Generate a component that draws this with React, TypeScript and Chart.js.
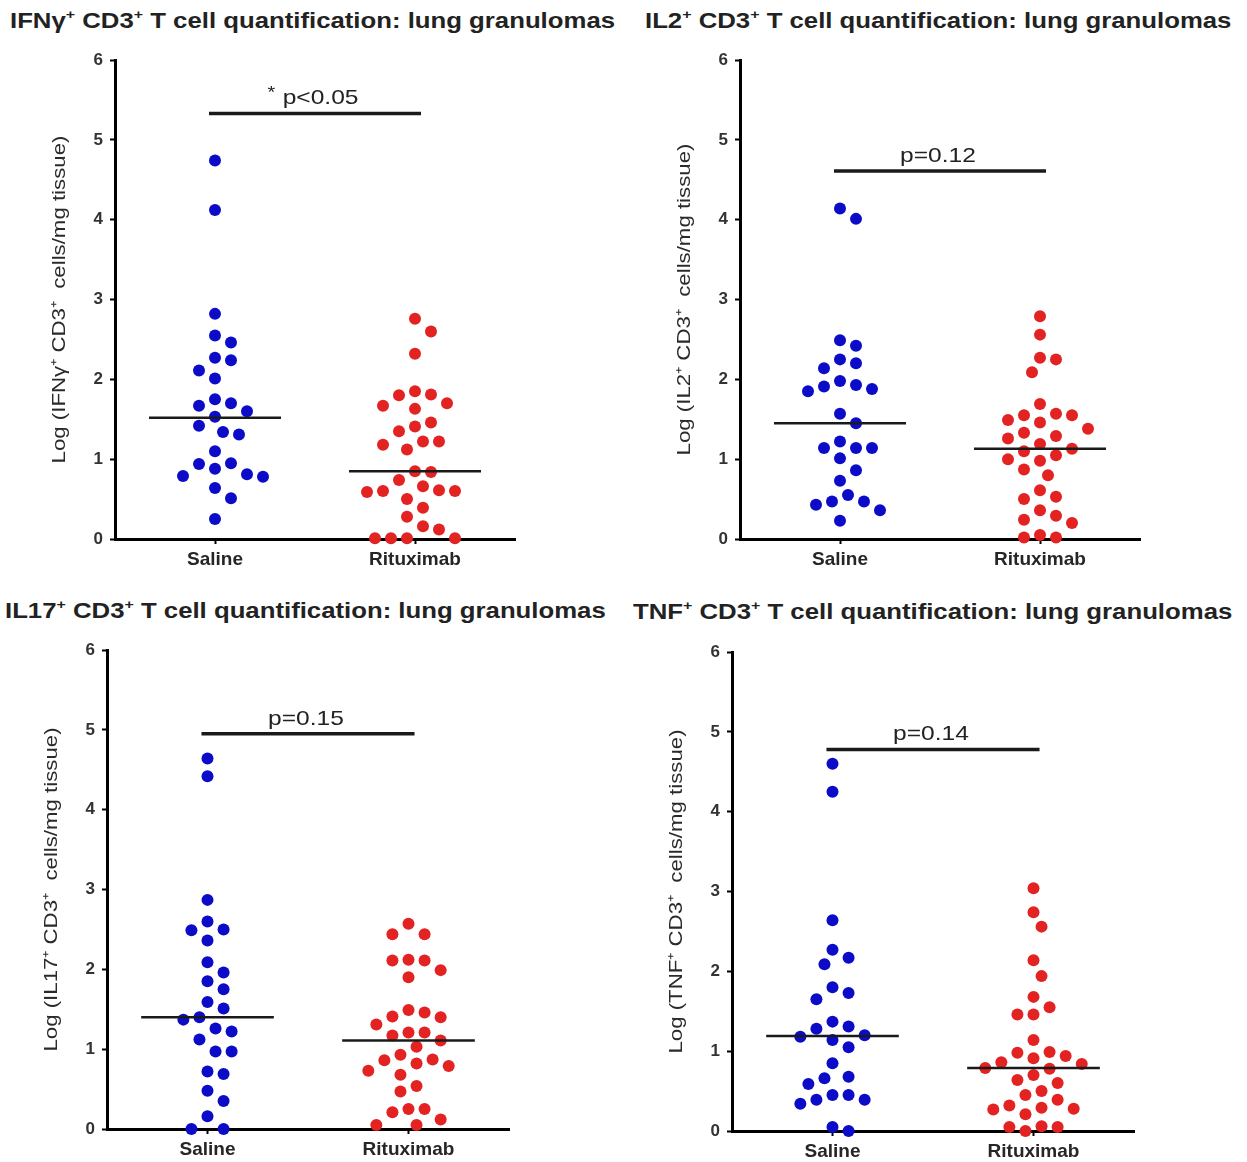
import React, { useEffect, useRef } from 'react';
import { Chart, registerables } from 'chart.js';

Chart.register(...registerables);

// ---------- data ----------
const categories = ['Saline', 'Rituximab'];

const ifngSaline = [4.74, 4.12, 2.82, 2.55, 2.46, 2.27, 2.24, 2.11, 2.01, 1.75, 1.70, 1.67, 1.60, 1.53, 1.42, 1.34, 1.31, 1.10, 0.94, 0.95, 0.88, 0.81, 0.78, 0.79, 0.64, 0.51, 0.25];
const ifngRituximab = [2.76, 2.60, 2.32, 1.85, 1.81, 1.80, 1.70, 1.67, 1.63, 1.46, 1.41, 1.35, 1.22, 1.22, 1.18, 1.12, 0.85, 0.84, 0.74, 0.66, 0.61, 0.60, 0.60, 0.59, 0.50, 0.39, 0.28, 0.16, 0.12, 0.01, 0.01, 0.01, 0.01];
const ifngMedians = [1.52, 0.85];
const ifngBar = 5.33;
const ifngP = '* p<0.05';

const il2Saline = [4.14, 4.01, 2.49, 2.42, 2.25, 2.20, 2.14, 1.98, 1.93, 1.91, 1.88, 1.85, 1.57, 1.45, 1.22, 1.14, 1.14, 1.14, 1.01, 0.86, 0.73, 0.55, 0.47, 0.47, 0.43, 0.36, 0.23];
const il2Rituximab = [2.79, 2.56, 2.27, 2.25, 2.09, 1.69, 1.57, 1.55, 1.55, 1.49, 1.46, 1.38, 1.33, 1.29, 1.26, 1.19, 1.13, 1.10, 1.05, 1.00, 0.98, 0.87, 0.80, 0.61, 0.53, 0.50, 0.36, 0.29, 0.24, 0.20, 0.05, 0.02, 0.02];
const il2Medians = [1.45, 1.13];
const il2Bar = 4.61;
const il2P = 'p=0.12';

const il17Saline = [4.64, 4.42, 2.87, 2.60, 2.50, 2.49, 2.36, 2.09, 1.96, 1.85, 1.75, 1.59, 1.51, 1.40, 1.37, 1.26, 1.22, 1.12, 0.97, 0.97, 0.72, 0.69, 0.48, 0.35, 0.16, 0.00, 0.00];
const il17Rituximab = [2.57, 2.44, 2.44, 2.12, 2.11, 2.11, 1.99, 1.90, 1.49, 1.46, 1.41, 1.40, 1.31, 1.21, 1.21, 1.17, 1.11, 1.03, 0.93, 0.87, 0.86, 0.82, 0.79, 0.73, 0.68, 0.54, 0.47, 0.25, 0.25, 0.21, 0.12, 0.05, 0.05];
const il17Medians = [1.40, 1.11];
const il17Bar = 4.95;
const il17P = 'p=0.15';

const tnfSaline = [4.60, 4.25, 2.64, 2.27, 2.17, 2.09, 1.80, 1.73, 1.65, 1.37, 1.31, 1.28, 1.20, 1.18, 1.14, 1.05, 0.85, 0.68, 0.66, 0.59, 0.45, 0.45, 0.39, 0.39, 0.34, 0.05, 0.00];
const tnfRituximab = [3.04, 2.74, 2.56, 2.14, 1.94, 1.68, 1.55, 1.46, 1.46, 1.14, 0.99, 0.98, 0.94, 0.91, 0.86, 0.84, 0.79, 0.78, 0.70, 0.64, 0.60, 0.50, 0.45, 0.39, 0.32, 0.29, 0.28, 0.27, 0.21, 0.06, 0.05, 0.05, 0.00];
const tnfMedians = [1.19, 0.79];
const tnfBar = 4.78;
const tnfP = 'p=0.14';

const yTicks = [0, 1, 2, 3, 4, 5, 6];

// ---------- style ----------
const BLUE = '#0c0cc8';
const RED = '#e32222';
const FONT = '"Liberation Sans", Arial, Helvetica, sans-serif';
const X_PX = 200; // px per category unit
const Y_PX = 479 / 6; // px per y unit
const DOT_R = 6;
const HALF_MEDIAN = 0.33;
const BAR_FROM = 0.97;
const BAR_TO = 2.03;
const STRETCH = 1.17;

function swarmOffsets(values: number[]): number[] {
  const D = 16;
  const step = 8;
  const order = values.map((_, i) => i).sort((a, b) => values[b] - values[a]);
  const placed: { x: number; y: number }[] = [];
  const out = new Array(values.length).fill(0);
  for (const i of order) {
    const y = values[i] * Y_PX;
    const near = placed.filter((p) => Math.abs(p.y - y) < D);
    const bias = near.reduce((s, p) => s + p.x, 0);
    let chosen = 0;
    for (let k = 0; k < 30; k++) {
      const cands = k === 0 ? [0] : bias > 0 ? [-k * step, k * step] : [k * step, -k * step];
      let found: number | null = null;
      for (const c of cands) {
        if (near.every((p) => (p.x - c) ** 2 + (p.y - y) ** 2 >= D * D)) {
          found = c;
          break;
        }
      }
      if (found !== null) {
        chosen = found;
        break;
      }
    }
    placed.push({ x: chosen, y });
    out[i] = chosen / X_PX;
  }
  return out;
}

type PanelProps = {
  saline: number[];
  rituximab: number[];
  medians: number[];
  bar: number;
  pText: string;
  yTitle: string;
  axisX: number;
  top: number;
  bottom: number;
  right: number;
};

const textPlugin = {
  id: 'extraText',
  afterDatasetsDraw(chart: any, _args: any, opts: any) {
    const { ctx, scales, chartArea } = chart;
    // p-value label above the bar
    const x = scales.x.getPixelForValue(1.49);
    const y = scales.y.getPixelForValue(opts.bar) - 9;
    ctx.save();
    ctx.fillStyle = '#222';
    ctx.textBaseline = 'alphabetic';
    ctx.textAlign = 'left';
    let text: string = opts.text;
    let star = false;
    if (text.startsWith('* ')) {
      star = true;
      text = text.slice(2);
    }
    ctx.translate(x, y);
    ctx.scale(STRETCH, 1);
    ctx.font = `21px ${FONT}`;
    const w = ctx.measureText(text).width;
    const starW = star ? 13 : 0;
    const start = -(w + starW) / 2;
    if (star) {
      ctx.font = `17px ${FONT}`;
      ctx.fillText('*', start, -6);
      ctx.font = `21px ${FONT}`;
    }
    ctx.fillText(text, start + starW, 0);
    ctx.restore();

    // rotated y-axis title
    ctx.save();
    ctx.fillStyle = '#2a2a2a';
    ctx.translate(60, (chartArea.top + chartArea.bottom) / 2);
    ctx.rotate(-Math.PI / 2);
    ctx.scale(STRETCH, 1);
    ctx.font = `19px ${FONT}`;
    ctx.textAlign = 'center';
    ctx.textBaseline = 'middle';
    ctx.fillText(opts.yTitle, 0, 0);
    ctx.restore();
  },
};

function Panel(props: PanelProps) {
  const ref = useRef<HTMLCanvasElement | null>(null);
  const width = 620;
  const height = props.bottom - props.top + 20 + 49;
  const left = props.axisX - 115;
  useEffect(() => {
    if (!ref.current) return;
    const offS = swarmOffsets(props.saline);
    const offR = swarmOffsets(props.rituximab);
    const lineDs = (x0: number, x1: number, y: number, w: number) => ({
      type: 'line' as const,
      data: [
        { x: x0, y },
        { x: x1, y },
      ],
      borderColor: '#1a1a1a',
      borderWidth: w,
      pointRadius: 0,
      showLine: true,
      clip: false as any,
      fill: false,
    });
    const chart = new Chart(ref.current, {
      type: 'scatter',
      data: {
        datasets: [
          lineDs(BAR_FROM, BAR_TO, props.bar, 3.5),
          lineDs(1 - HALF_MEDIAN, 1 + HALF_MEDIAN, props.medians[0], 2.5),
          lineDs(2 - HALF_MEDIAN, 2 + HALF_MEDIAN, props.medians[1], 2.5),
          {
            label: categories[0],
            data: props.saline.map((v, i) => ({ x: 1 + offS[i], y: v })),
            backgroundColor: BLUE,
            borderWidth: 0,
            pointRadius: DOT_R,
            clip: false as any,
          },
          {
            label: categories[1],
            data: props.rituximab.map((v, i) => ({ x: 2 + offR[i], y: v })),
            backgroundColor: RED,
            borderWidth: 0,
            pointRadius: DOT_R,
            clip: false as any,
          },
        ] as any,
      },
      options: {
        responsive: false,
        animation: false,
        devicePixelRatio: 1,
        layout: { padding: { top: 20, right: width - 115 - (props.right - props.axisX), bottom: 0, left: 0 } },
        plugins: {
          legend: { display: false },
          tooltip: { enabled: false },
          extraText: { text: props.pText, bar: props.bar, yTitle: props.yTitle },
        } as any,
        scales: {
          x: {
            type: 'linear',
            min: 0.5,
            max: 2.5,
            afterBuildTicks: (s: any) => {
              s.ticks = [{ value: 1 }, { value: 2 }];
            },
            afterFit: (s: any) => {
              s.height = 49;
            },
            ticks: {
              callback: (v: any) => categories[Math.round(Number(v)) - 1] ?? '',
              font: { family: FONT, size: 19, weight: 'bold' },
              color: '#262626',
              padding: 4,
              maxRotation: 0,
              autoSkip: false,
            },
            grid: {
              display: true,
              drawOnChartArea: false,
              drawTicks: true,
              tickLength: 5,
              tickWidth: 2,
              tickColor: '#000',
            },
            border: { display: true, width: 3, color: '#000' },
          },
          y: {
            type: 'linear',
            min: 0,
            max: 6,
            afterBuildTicks: (s: any) => {
              s.ticks = yTicks.map((v) => ({ value: v }));
            },
            afterFit: (s: any) => {
              s.width = 115;
            },
            ticks: {
              font: { family: FONT, size: 17, weight: 'bold' },
              color: '#333',
              padding: 7,
              callback: (v: any) => String(v),
            },
            grid: {
              display: true,
              drawOnChartArea: false,
              drawTicks: true,
              tickLength: 5,
              tickWidth: 2,
              tickColor: '#000',
            },
            border: { display: true, width: 3, color: '#000' },
          },
        },
      } as any,
      plugins: [textPlugin as any],
    });
    return () => chart.destroy();
  }, []);
  return (
    <canvas
      ref={ref}
      width={width}
      height={height}
      style={{ position: 'absolute', left, top: props.top - 20, width, height }}
    />
  );
}

const supStyle: React.CSSProperties = { fontSize: '0.62em', position: 'relative', top: '-0.65em' };

function Title({ left, top, name }: { left: number; top: number; name: string }) {
  return (
    <div
      style={{
        position: 'absolute',
        left,
        top,
        fontFamily: FONT,
        fontWeight: 'bold',
        fontSize: 22,
        color: '#222',
        whiteSpace: 'nowrap',
        lineHeight: '28px',
        transform: `scaleX(${STRETCH})`,
        transformOrigin: 'left center',
      }}
    >
      {name}
      <span style={supStyle}>+</span> CD3<span style={supStyle}>+</span> T cell quantification: lung granulomas
    </div>
  );
}

export default function App() {
  return (
    <div style={{ position: 'absolute', left: 0, top: 0, width: 1247, height: 1162, background: '#fff' }}>
      <Title left={10} top={7} name="IFNγ" />
      <Title left={645} top={7} name="IL2" />
      <Title left={5} top={597} name="IL17" />
      <Title left={633} top={598} name="TNF" />
      <Panel saline={ifngSaline} rituximab={ifngRituximab} medians={ifngMedians} bar={ifngBar} pText={ifngP}
        yTitle="Log (IFNγ⁺ CD3⁺  cells/mg tissue)" axisX={115} top={60} bottom={539} right={515} />
      <Panel saline={il2Saline} rituximab={il2Rituximab} medians={il2Medians} bar={il2Bar} pText={il2P}
        yTitle="Log (IL2⁺ CD3⁺  cells/mg tissue)" axisX={740} top={60} bottom={539} right={1140} />
      <Panel saline={il17Saline} rituximab={il17Rituximab} medians={il17Medians} bar={il17Bar} pText={il17P}
        yTitle="Log (IL17⁺ CD3⁺  cells/mg tissue)" axisX={107} top={650} bottom={1129} right={509} />
      <Panel saline={tnfSaline} rituximab={tnfRituximab} medians={tnfMedians} bar={tnfBar} pText={tnfP}
        yTitle="Log (TNF⁺ CD3⁺  cells/mg tissue)" axisX={732} top={652} bottom={1131} right={1134} />
    </div>
  );
}
